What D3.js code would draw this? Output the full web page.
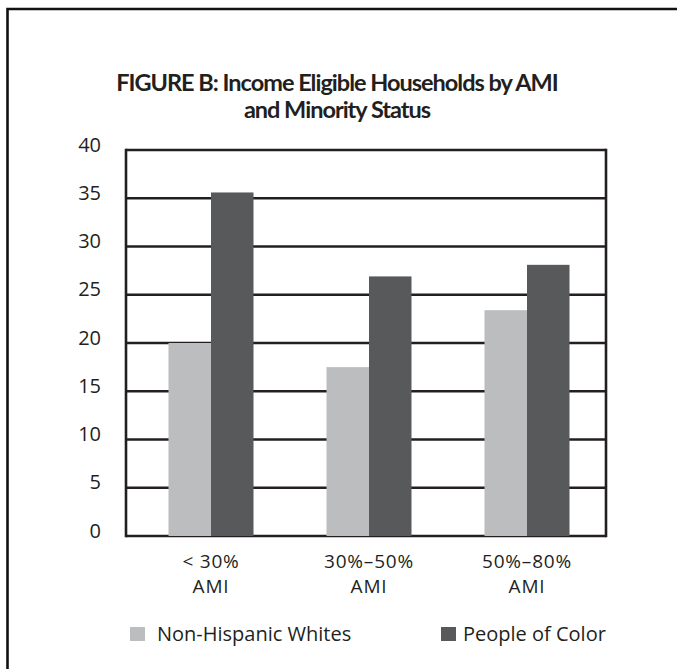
<!DOCTYPE html>
<html>
<head>
<meta charset="utf-8">
<script src="https://cdn.jsdelivr.net/npm/d3@7/dist/d3.min.js"></script>
<style>
  html, body { margin: 0; padding: 0; background: #fff; }
  svg { display: block; }
  text { fill: #231f20; }
</style>
</head>
<body>
<svg id="chart" width="677" height="669"></svg>
<script>
// Share of income-eligible households (%) by AMI band
const categories = [["< 30%", "AMI"], ["30%\u201350%", "AMI"], ["50%\u201380%", "AMI"]];
const seriesNames = ["Non-Hispanic Whites", "People of Color"];
const nonHispanicWhites = [20.0, 17.5, 23.4];
const peopleOfColor = [35.6, 26.9, 28.1];
const yTicks = [0, 5, 10, 15, 20, 25, 30, 35, 40];
const titleLines = ["FIGURE B: Income Eligible Households by AMI", "and Minority Status"];

const colors = ["#bcbdbf", "#58595b"];
const ink = "#231f20";
const bodyFont = "'Open Sans', Lato, sans-serif";

const svg = d3.select("#chart");

// Outer frame, open to the right and bottom edges
svg.append("path")
  .attr("d", "M7.5,680 V9 H690")
  .attr("fill", "none")
  .attr("stroke", "#111")
  .attr("stroke-width", 2.6);

// Title
svg.append("g").selectAll("text")
  .data(titleLines)
  .join("text")
  .attr("x", 337)
  .attr("y", (d, i) => 91 + i * 27)
  .attr("text-anchor", "middle")
  .style("font-family", "Lato, sans-serif")
  .style("font-size", "23.5px")
  .style("font-weight", 700)
  .style("letter-spacing", "-1px")
  .text(d => d);

const plot = { left: 126, right: 606, top: 150, bottom: 536 };

const y = d3.scaleLinear().domain([0, 40]).range([plot.bottom, plot.top]);
const x = d3.scaleBand()
  .domain(d3.range(categories.length))
  .range([132, 606])
  .paddingInner(0.462)
  .paddingOuter(0.231);
const xs = d3.scaleBand().domain(d3.range(seriesNames.length)).range([0, x.bandwidth()]);

// Horizontal grid lines
svg.append("g").selectAll("line")
  .data(yTicks)
  .join("line")
  .attr("x1", plot.left).attr("x2", plot.right)
  .attr("y1", d => y(d)).attr("y2", d => y(d))
  .attr("stroke", ink)
  .attr("stroke-width", 2.6);

// Bars
const rows = categories.map((c, i) => [nonHispanicWhites[i], peopleOfColor[i]]);
svg.append("g").selectAll("g")
  .data(rows)
  .join("g")
  .attr("transform", (d, i) => `translate(${x(i)},0)`)
  .selectAll("rect")
  .data(d => d)
  .join("rect")
  .attr("x", (d, j) => xs(j))
  .attr("width", xs.bandwidth())
  .attr("y", d => y(d))
  .attr("height", d => y(0) - y(d))
  .attr("fill", (d, j) => colors[j]);

// Vertical plot edges
svg.append("g").selectAll("line")
  .data([plot.left, plot.right])
  .join("line")
  .attr("x1", d => d).attr("x2", d => d)
  .attr("y1", plot.top - 1.3).attr("y2", plot.bottom + 1.3)
  .attr("stroke", ink)
  .attr("stroke-width", 2.6);

// Y axis labels
const yAxis = d3.axisLeft(y).tickValues(yTicks).tickSize(0).tickPadding(25);
const yg = svg.append("g").attr("transform", `translate(${plot.left},0)`).call(yAxis);
yg.select(".domain").remove();
yg.selectAll("text")
  .style("font-family", bodyFont)
  .style("font-size", "20px")
  .attr("fill", ink)
  .attr("dy", "0.05em");

// Category labels
const xl = svg.append("g").selectAll("text")
  .data(categories)
  .join("text")
  .attr("x", (d, i) => x(i) + x.bandwidth() / 2)
  .attr("y", 568)
  .attr("text-anchor", "middle")
  .style("font-family", bodyFont)
  .style("font-size", "19px")
  .style("letter-spacing", "0.8px");
xl.selectAll("tspan")
  .data(d => d)
  .join("tspan")
  .attr("x", function () { return this.parentNode.getAttribute("x"); })
  .attr("dy", (d, i) => i === 0 ? 0 : 25)
  .text(d => d);

// Legend
const legendSwatchX = [130, 441];
const legendTextX = [157, 463];
const lg = svg.append("g").selectAll("g")
  .data(seriesNames)
  .join("g");
lg.append("rect")
  .attr("x", (d, i) => legendSwatchX[i])
  .attr("y", 627)
  .attr("width", 15).attr("height", 14)
  .attr("fill", (d, i) => colors[i]);
lg.append("text")
  .attr("x", (d, i) => legendTextX[i])
  .attr("y", 641)
  .style("font-family", bodyFont)
  .style("font-size", "20px")
  .text(d => d);
</script>
</body>
</html>
